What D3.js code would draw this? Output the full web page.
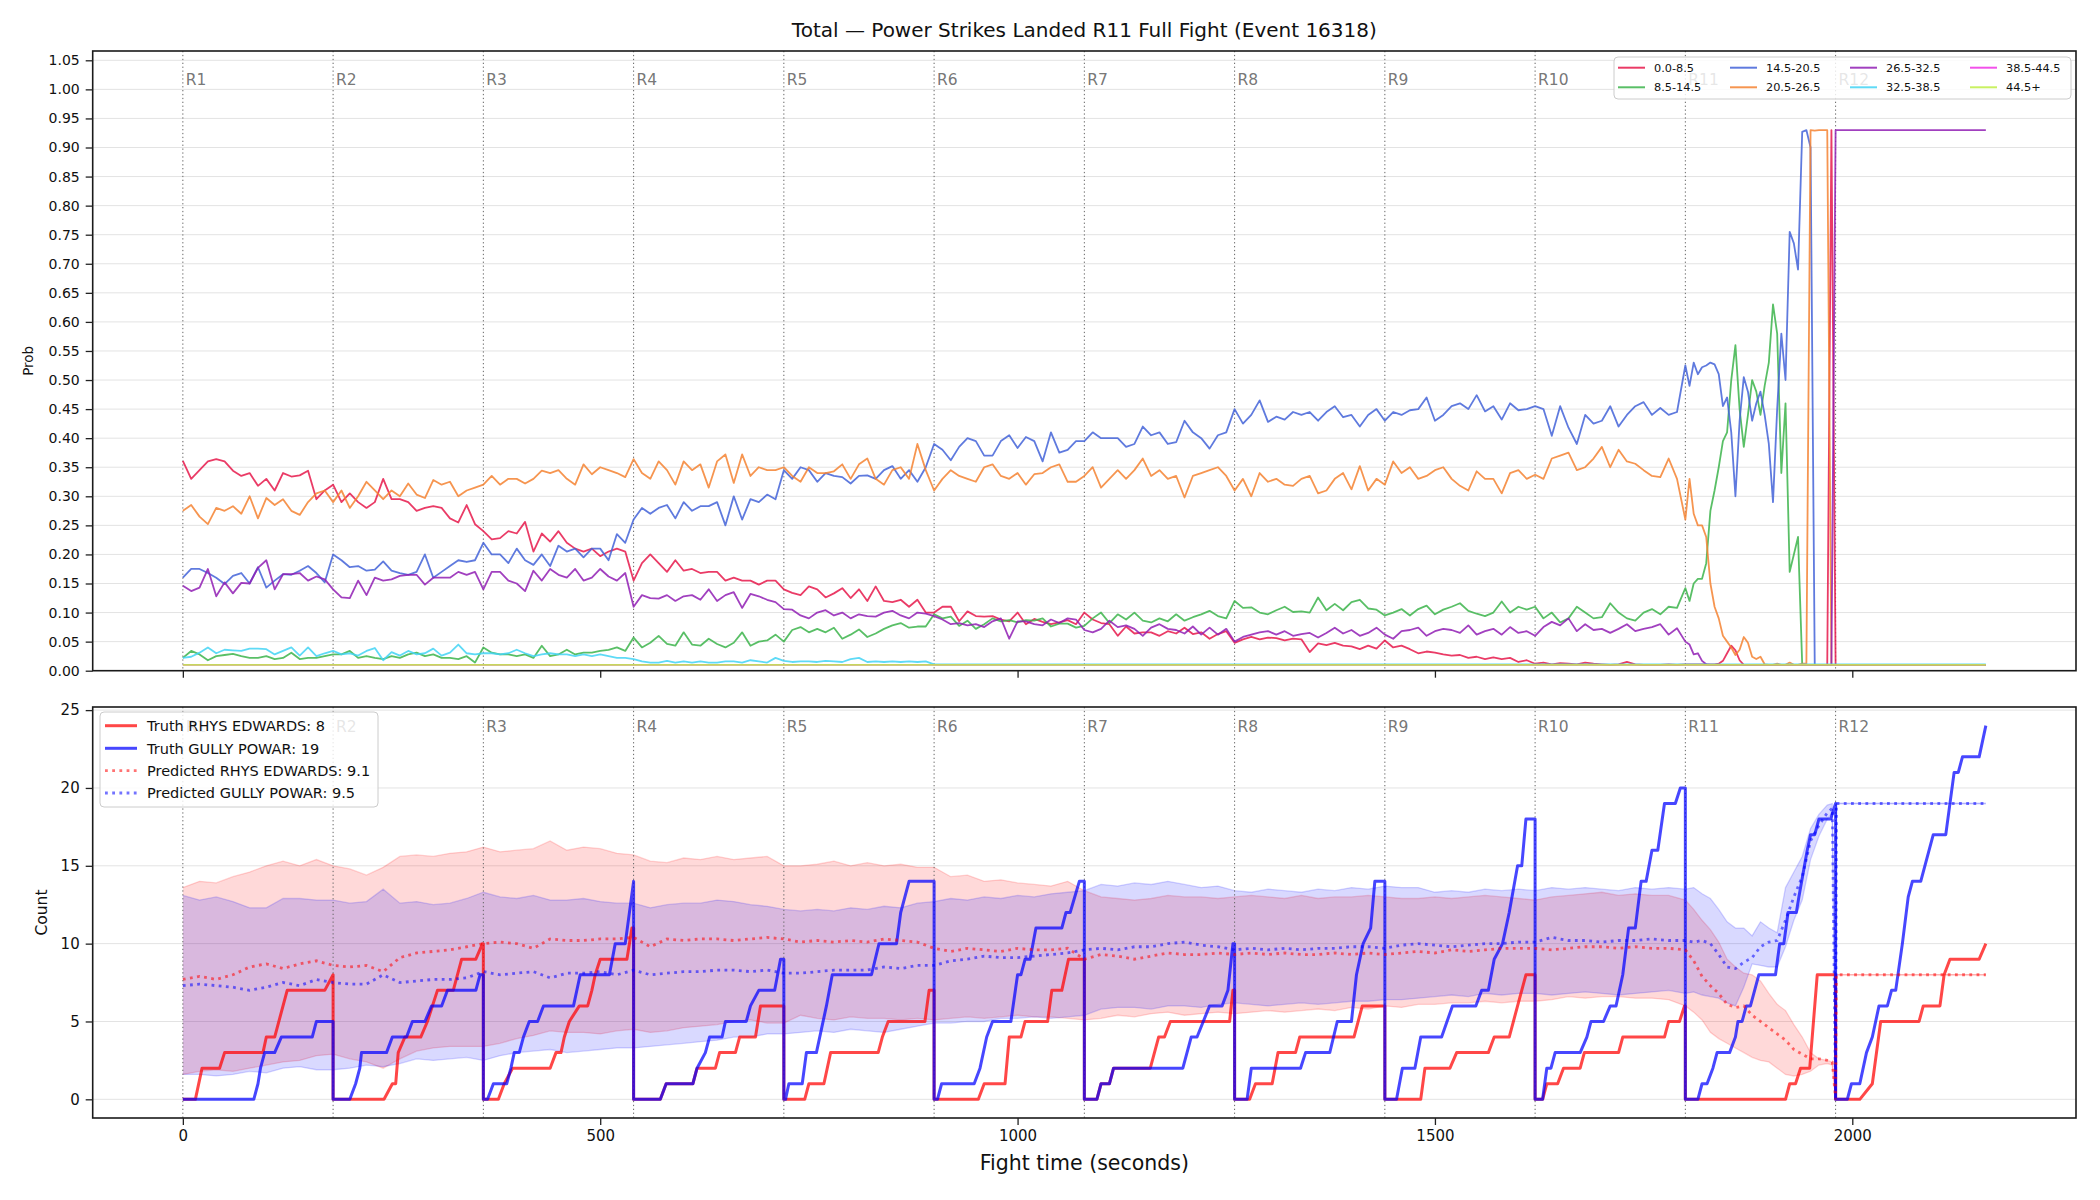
<!DOCTYPE html>
<html>
<head>
<meta charset="utf-8">
<script src="https://cdn.jsdelivr.net/npm/d3@7/dist/d3.min.js"></script>
<style>
html,body{margin:0;padding:0;background:#fff;}
svg{display:block;}
</style>
</head>
<body>
<svg id="chart" width="2100" height="1200"></svg>
<script>
// ================= DATA =================
const titleText = "Total — Power Strikes Landed R11 Full Fight (Event 16318)";
const roundLabels = ["R1","R2","R3","R4","R5","R6","R7","R8","R9","R10","R11","R12"];
const roundStarts = [0,180,360,540,720,900,1080,1260,1440,1620,1800,1980];
const bucketLabels = ["0.0-8.5","8.5-14.5","14.5-20.5","20.5-26.5","26.5-32.5","32.5-38.5","38.5-44.5","44.5+"];
const bucketColors = ["#e6194b","#3cb44b","#4363d8","#f58231","#911eb4","#42d4f4","#f032e6","#bfef45"];
const probTicks = [0,0.05,0.10,0.15,0.20,0.25,0.30,0.35,0.40,0.45,0.50,0.55,0.60,0.65,0.70,0.75,0.80,0.85,0.90,0.95,1.00,1.05];
const countTicks = [0,5,10,15,20,25];
const timeTicks = [0,500,1000,1500,2000];
const fighterNames = ["RHYS EDWARDS","GULLY POWAR"];
const truthTotals = [8,19];
const predTotals = [9.1,9.5];

// sampling grid of the probability panel (10 s through R10, 5 s through R11, then end of fight)
const probTimes = d3.range(0,1800,10).concat(d3.range(1800,1981,5),[2160]);

const probCrimson = [
0.361,0.33,0.345,0.36,0.364,0.36,0.344,0.335,0.34,0.318,0.33,0.31,0.34,0.334,0.336,0.344,0.295,0.31,
0.32,0.29,0.305,0.29,0.28,0.29,0.33,0.295,0.295,0.29,0.275,0.28,0.283,0.28,0.262,0.255,0.285,0.252,
0.24,0.226,0.228,0.24,0.236,0.256,0.205,0.236,0.222,0.24,0.22,0.21,0.205,0.21,0.197,0.205,0.21,0.205,
0.155,0.185,0.2,0.185,0.17,0.19,0.172,0.175,0.168,0.17,0.17,0.155,0.16,0.155,0.155,0.148,0.155,0.155,
0.14,0.134,0.13,0.145,0.14,0.126,0.133,0.142,0.125,0.14,0.12,0.145,0.12,0.118,0.122,0.11,0.122,0.1,
0.1,0.11,0.11,0.085,0.102,0.094,0.093,0.094,0.088,0.085,0.1,0.08,0.089,0.084,0.08,0.083,0.087,0.08,
0.1,0.088,0.082,0.08,0.06,0.076,0.064,0.066,0.066,0.06,0.068,0.064,0.074,0.063,0.066,0.055,0.063,0.068,
0.048,0.054,0.058,0.054,0.057,0.056,0.052,0.055,0.054,0.032,0.047,0.044,0.048,0.043,0.042,0.037,0.043,0.038,
0.052,0.04,0.043,0.037,0.03,0.033,0.031,0.028,0.026,0.027,0.022,0.024,0.02,0.023,0.02,0.022,0.015,0.018,
0.012,0.014,0.011,0.013,0.012,0.011,0.014,0.012,0.011,0.01,0.011,0.015,0.011,0.01,0.01,0.01,0.011,0.01,
0.011,0.011,0.011,0.011,0.011,0.011,0.011,0.011,0.012,0.017,0.03,0.043,0.035,0.018,0.01,
0.01,0.01,0.01,0.01,0.01,0.01,0.01,0.01,0.01,0.01,
0.01,0.01,0.01,0.01,0.01,0.01,0.01,0.01,0.01,0.01,
0.93,0.01,
0.01];

const probGreen = [
0.022,0.034,0.028,0.018,0.025,0.027,0.029,0.025,0.022,0.022,0.025,0.02,0.022,0.031,0.02,0.022,0.022,0.025,
0.028,0.028,0.034,0.022,0.025,0.022,0.02,0.025,0.022,0.028,0.031,0.025,0.028,0.022,0.022,0.02,0.025,0.014,
0.04,0.031,0.028,0.028,0.025,0.028,0.022,0.043,0.025,0.028,0.036,0.028,0.031,0.031,0.034,0.036,0.04,0.034,
0.057,0.04,0.048,0.06,0.046,0.043,0.066,0.045,0.043,0.055,0.046,0.04,0.048,0.066,0.043,0.05,0.052,0.062,
0.05,0.07,0.075,0.066,0.072,0.066,0.074,0.055,0.062,0.071,0.058,0.064,0.072,0.078,0.082,0.074,0.076,0.076,
0.097,0.09,0.093,0.077,0.086,0.072,0.08,0.09,0.085,0.087,0.083,0.087,0.086,0.09,0.076,0.081,0.081,0.074,
0.077,0.09,0.1,0.082,0.097,0.088,0.1,0.086,0.083,0.09,0.085,0.097,0.086,0.092,0.097,0.103,0.094,0.09,
0.12,0.108,0.109,0.1,0.097,0.104,0.11,0.101,0.102,0.1,0.126,0.104,0.115,0.104,0.118,0.122,0.107,0.105,
0.095,0.1,0.106,0.095,0.106,0.112,0.097,0.105,0.11,0.116,0.103,0.098,0.094,0.1,0.119,0.1,0.11,0.105,
0.11,0.09,0.1,0.083,0.09,0.11,0.1,0.09,0.092,0.116,0.1,0.09,0.086,0.1,0.106,0.097,0.11,0.108,
0.142,0.12,0.15,0.158,0.158,0.185,0.275,0.31,0.35,0.395,0.41,0.5,0.56,0.45,0.385,0.44,0.5,0.48,0.44,0.49,
0.53,0.63,0.58,0.34,0.46,0.17,0.2,0.23,0.01,
0.01,0.01,0.01,0.01,0.01,0.01,0.01,0.01,
0.01];

const probBlue = [
0.16,0.175,0.175,0.168,0.16,0.149,0.163,0.168,0.15,0.178,0.143,0.155,0.166,0.165,0.172,0.18,0.168,0.152,
0.2,0.19,0.178,0.18,0.172,0.174,0.188,0.172,0.168,0.165,0.17,0.2,0.16,0.17,0.18,0.19,0.187,0.19,
0.22,0.2,0.2,0.185,0.21,0.19,0.182,0.2,0.18,0.215,0.205,0.21,0.195,0.21,0.21,0.19,0.235,0.22,
0.26,0.28,0.27,0.28,0.285,0.262,0.29,0.275,0.283,0.283,0.29,0.25,0.3,0.26,0.295,0.29,0.303,0.295,
0.345,0.33,0.35,0.345,0.325,0.34,0.335,0.333,0.322,0.335,0.336,0.33,0.345,0.352,0.33,0.345,0.325,0.35,
0.39,0.38,0.362,0.385,0.4,0.395,0.37,0.37,0.395,0.405,0.383,0.402,0.395,0.36,0.41,0.375,0.38,0.395,
0.395,0.41,0.4,0.4,0.4,0.385,0.39,0.42,0.405,0.41,0.39,0.393,0.43,0.41,0.4,0.382,0.405,0.41,
0.45,0.425,0.44,0.465,0.428,0.437,0.432,0.445,0.44,0.445,0.43,0.445,0.455,0.436,0.44,0.42,0.44,0.45,
0.43,0.445,0.44,0.448,0.45,0.47,0.43,0.44,0.455,0.46,0.45,0.474,0.446,0.455,0.432,0.46,0.448,0.45,
0.455,0.45,0.404,0.455,0.418,0.39,0.44,0.425,0.43,0.455,0.42,0.44,0.455,0.462,0.44,0.452,0.44,0.445,
0.525,0.49,0.53,0.51,0.522,0.525,0.53,0.527,0.51,0.455,0.47,0.41,0.3,0.43,0.505,0.48,0.43,0.46,0.48,0.44,
0.39,0.29,0.45,0.58,0.5,0.755,0.735,0.69,0.927,0.93,0.9,
0.01,0.01,0.01,0.01,0.01,0.01,
0.01];

const probOrange = [
0.275,0.285,0.265,0.252,0.28,0.275,0.283,0.27,0.3,0.262,0.297,0.285,0.295,0.275,0.268,0.29,0.305,0.31,
0.29,0.31,0.28,0.3,0.325,0.31,0.295,0.31,0.3,0.322,0.303,0.297,0.328,0.32,0.325,0.3,0.31,0.315,
0.32,0.335,0.32,0.33,0.33,0.322,0.33,0.344,0.34,0.345,0.33,0.32,0.355,0.338,0.35,0.345,0.34,0.333,
0.364,0.34,0.33,0.36,0.345,0.32,0.36,0.345,0.355,0.315,0.36,0.372,0.323,0.372,0.335,0.35,0.345,0.345,
0.35,0.335,0.325,0.35,0.34,0.34,0.343,0.355,0.33,0.355,0.365,0.33,0.32,0.345,0.35,0.33,0.39,0.345,
0.31,0.33,0.345,0.335,0.33,0.325,0.35,0.355,0.335,0.33,0.34,0.32,0.338,0.34,0.35,0.355,0.325,0.325,
0.335,0.35,0.315,0.33,0.345,0.33,0.345,0.365,0.335,0.345,0.33,0.335,0.298,0.335,0.34,0.345,0.35,0.335,
0.31,0.33,0.3,0.34,0.325,0.33,0.32,0.318,0.33,0.335,0.305,0.31,0.33,0.34,0.312,0.352,0.31,0.33,
0.32,0.36,0.34,0.35,0.33,0.335,0.345,0.35,0.33,0.318,0.31,0.343,0.33,0.33,0.305,0.34,0.345,0.33,
0.337,0.33,0.365,0.37,0.375,0.345,0.35,0.365,0.385,0.35,0.38,0.36,0.356,0.345,0.335,0.333,0.365,0.33,
0.26,0.33,0.27,0.25,0.25,0.23,0.15,0.11,0.09,0.06,0.05,0.04,0.027,0.036,0.058,0.048,0.024,0.02,0.024,0.011,
0.01,0.01,0.012,0.01,0.01,0.014,0.01,0.01,0.012,0.012,0.93,0.929,0.93,0.93,0.93,0.01,0.01,
0.01];

const probPurple = [
0.146,0.137,0.143,0.175,0.128,0.152,0.133,0.151,0.15,0.177,0.19,0.14,0.166,0.166,0.168,0.155,0.162,0.157,
0.14,0.126,0.125,0.155,0.13,0.16,0.155,0.157,0.163,0.165,0.165,0.148,0.16,0.16,0.16,0.17,0.165,0.17,
0.14,0.17,0.17,0.155,0.15,0.137,0.172,0.155,0.175,0.165,0.16,0.175,0.155,0.16,0.175,0.162,0.155,0.168,
0.11,0.13,0.125,0.124,0.13,0.12,0.128,0.13,0.122,0.14,0.12,0.13,0.135,0.108,0.132,0.128,0.122,0.118,
0.106,0.105,0.095,0.09,0.1,0.104,0.095,0.1,0.09,0.097,0.094,0.093,0.1,0.103,0.095,0.09,0.1,0.098,
0.094,0.088,0.08,0.082,0.078,0.08,0.075,0.085,0.09,0.055,0.085,0.085,0.08,0.078,0.088,0.082,0.09,0.088,
0.07,0.066,0.072,0.086,0.075,0.078,0.072,0.06,0.074,0.08,0.072,0.07,0.064,0.076,0.062,0.074,0.062,0.072,
0.05,0.058,0.062,0.066,0.068,0.062,0.068,0.06,0.063,0.065,0.057,0.065,0.074,0.064,0.07,0.06,0.065,0.074,
0.062,0.055,0.068,0.07,0.074,0.06,0.068,0.072,0.07,0.065,0.078,0.062,0.068,0.072,0.062,0.075,0.065,0.068,
0.06,0.075,0.084,0.078,0.09,0.068,0.08,0.07,0.072,0.065,0.072,0.08,0.068,0.072,0.075,0.08,0.062,0.073,
0.05,0.045,0.028,0.03,0.017,0.011,
0.01,0.01,0.01,0.01,0.01,0.01,0.01,0.01,0.01,0.01,
0.01,0.01,0.01,0.01,0.01,0.01,0.01,0.01,0.01,0.01,
0.01,0.01,0.01,0.01,0.01,0.01,0.01,0.01,0.01,0.01,
0.93,
0.93];

const cyanTimes = d3.range(0,900,10).concat([900,2160]);
const probCyan = [
0.022,0.024,0.031,0.04,0.03,0.036,0.035,0.034,0.038,0.038,0.037,0.028,0.034,0.04,0.026,0.04,0.025,0.03,
0.034,0.028,0.03,0.026,0.034,0.039,0.018,0.032,0.026,0.034,0.028,0.03,0.038,0.026,0.031,0.045,0.03,0.028,
0.03,0.03,0.028,0.03,0.036,0.03,0.025,0.028,0.03,0.028,0.028,0.025,0.028,0.025,0.028,0.025,0.022,0.022,
0.02,0.016,0.014,0.014,0.017,0.014,0.016,0.014,0.016,0.014,0.014,0.016,0.016,0.014,0.018,0.016,0.014,0.022,
0.017,0.015,0.016,0.016,0.015,0.017,0.016,0.015,0.02,0.022,0.015,0.016,0.015,0.016,0.015,0.016,0.015,0.016,
0.011,0.011];

const flatTimes = [0,2160];
const probMagenta = [0.01,0.01];
const probLime = [0.01,0.01];

// count panel: truth step lines as [seconds, count] vertices
const truthRed = [
[0,0],[15,0],[23,2],[44,2],[50,3],[96,3],[100,4],[110,4],[125,7],[170,7],[180,8],[180,0],
[241,0],[251,1],[255,1],[258,3],[266,4],[285,4],[293,5],[305,7],[324,7],[334,9],[351,9],[359,10],[360,10],[360,0],
[378,0],[385,1],[395,2],[440,2],[447,3],[453,3],[457,4],[463,5],[475,6],[485,6],[490,7],[494,8],[500,9],[532,9],[538,11],[540,11],[540,0],
[572,0],[579,1],[611,1],[616,2],[638,2],[643,3],[662,3],[667,4],[686,4],[692,6],[720,6],[720,0],
[745,0],[750,1],[768,1],[776,3],[833,3],[838,4],[845,5],[889,5],[894,7],[900,7],[900,0],
[953,0],[960,1],[985,1],[990,4],[1004,4],[1009,5],[1036,5],[1041,7],[1053,7],[1061,9],[1080,9],[1080,0],
[1095,0],[1100,1],[1110,1],[1115,2],[1159,2],[1169,4],[1176,4],[1183,5],[1254,5],[1258,7],[1260,7],[1260,0],
[1278,0],[1285,1],[1305,1],[1312,3],[1333,3],[1338,4],[1403,4],[1413,6],[1440,6],[1440,0],
[1483,0],[1488,2],[1518,2],[1526,3],[1564,3],[1571,4],[1589,4],[1609,8],[1620,8],[1620,0],
[1629,0],[1634,1],[1647,1],[1654,2],[1674,2],[1679,3],[1720,3],[1725,4],[1775,4],[1780,5],[1793,5],[1799,6],[1800,6],[1800,0],
[1920,0],[1925,1],[1932,1],[1938,2],[1949,2],[1958,8],[1980,8],[1980,0],
[2009,0],[2024,1],[2034,5],[2080,5],[2085,6],[2105,6],[2110,8],[2117,9],[2152,9],[2160,10]];

const truthBlue = [
[0,0],[85,0],[90,1],[93,2],[98,3],[110,3],[118,4],[155,4],[160,5],[180,5],[180,0],
[200,0],[207,1],[212,2],[214,3],[244,3],[251,4],[268,4],[275,5],[290,5],[298,6],[310,6],[317,7],[351,7],[356,8],[360,8],[360,0],
[365,0],[372,1],[388,1],[393,2],[397,3],[403,3],[408,4],[415,5],[425,5],[432,6],[468,6],[476,8],[511,8],[518,10],[530,10],[540,14],[540,0],
[572,0],[579,1],[611,1],[616,2],[626,3],[631,4],[646,4],[650,5],[675,5],[680,6],[690,7],[709,7],[716,9],[720,9],[720,0],
[722,0],[726,1],[742,1],[747,3],[759,3],[771,6],[778,8],[825,8],[834,10],[855,10],[860,12],[870,14],[900,14],[900,0],
[904,0],[909,1],[948,1],[955,2],[963,4],[970,5],[992,5],[1000,8],[1004,8],[1009,9],[1015,9],[1022,11],[1053,11],[1058,12],[1063,12],[1074,14],[1080,14],[1080,0],
[1095,0],[1100,1],[1110,1],[1115,2],[1198,2],[1203,3],[1208,4],[1215,4],[1230,6],[1245,6],[1252,7],[1258,10],[1260,10],[1260,0],
[1275,0],[1280,2],[1339,2],[1345,3],[1374,3],[1383,5],[1400,5],[1406,8],[1414,10],[1423,11],[1428,14],[1440,14],[1440,0],
[1454,0],[1461,2],[1476,2],[1483,4],[1508,4],[1521,6],[1549,6],[1556,7],[1564,7],[1571,9],[1581,10],[1589,12],[1599,15],[1604,15],[1609,18],[1620,18],[1620,0],
[1629,0],[1634,2],[1639,2],[1644,3],[1674,3],[1682,4],[1687,5],[1702,5],[1710,6],[1717,6],[1725,8],[1732,11],[1740,11],[1747,14],[1753,14],[1760,16],[1767,16],[1775,19],[1788,19],[1794,20],[1800,20],[1800,0],
[1815,0],[1820,1],[1826,1],[1833,2],[1838,3],[1853,3],[1860,4],[1863,5],[1868,5],[1873,6],[1878,6],[1888,8],[1908,8],[1913,10],[1918,10],[1923,12],[1933,12],[1936,13],[1946,16],[1950,17],[1955,17],[1960,18],[1974,18],[1980,19],[1980,0],
[1994,0],[1999,1],[2009,1],[2017,3],[2024,4],[2032,6],[2042,6],[2047,7],[2052,7],[2060,10],[2067,13],[2072,14],[2082,14],[2097,17],[2112,17],[2122,21],[2127,21],[2132,22],[2152,22],[2160,24]];

// prediction / interval sampling grid
const countTimes = d3.range(0,1800,20).concat(d3.range(1800,1971,10),[1976,1980,1981,2160]);

const redPred = [
7.7,7.9,7.7,8.0,8.5,8.7,8.4,8.7,8.9,
8.6,8.5,8.6,8.2,9.1,9.4,9.5,9.6,9.8,
10.0,10.1,10.0,9.7,10.3,10.2,10.2,10.3,10.3,
10.4,9.8,10.3,10.2,10.3,10.3,10.2,10.3,10.4,
10.3,10.1,10.2,10.1,10.2,10.1,10.3,10.2,10.1,
9.7,9.5,9.7,9.6,9.5,9.7,9.6,9.6,9.7,
9.0,9.3,9.2,9.0,9.2,9.4,9.3,9.3,9.4,
9.3,9.4,9.3,9.4,9.3,9.3,9.4,9.3,9.4,
9.3,9.4,9.5,9.4,9.6,9.5,9.6,9.7,9.7,
9.7,9.6,9.7,9.8,9.8,9.7,9.8,9.7,9.7,
9.6,8.9,7.9,7.3,6.8,6.1,5.9,6.0,5.4,5.0,4.6,4.2,3.8,3.2,2.9,2.6,2.6,2.5,
2.4,0,8,8];
const redUpper = [
13.6,14.0,13.9,14.3,14.6,15.0,15.3,15.0,15.4,
15.0,14.8,14.4,14.9,15.6,15.7,15.6,15.8,15.9,
16.2,15.9,16.0,16.1,16.6,16.0,16.2,16.1,15.8,
15.7,15.3,15.2,15.5,15.4,15.6,15.4,15.5,15.6,
15.0,15.0,15.1,15.3,15.0,15.2,15.0,15.1,14.9,
14.9,14.3,14.4,14.0,14.1,13.9,13.8,13.7,14.0,
13.4,13.0,12.9,12.8,12.9,13.1,13.0,13.0,12.9,
13.0,13.1,13.0,12.9,13.1,12.9,13.0,13.0,13.1,
13.0,12.9,12.9,13.0,12.9,13.0,13.1,13.0,12.9,
12.8,13.0,13.1,13.2,13.3,13.1,13.2,13.1,13.1,
12.8,12.2,11.5,10.9,10.1,9.0,8.5,8.1,8.0,7.6,6.8,6.1,5.7,4.8,4.0,3.0,2.6,2.5,
2.4,0,8,8];
const redLower = [
1.6,1.8,1.9,1.8,2.0,2.2,2.4,2.5,2.8,
2.9,2.6,2.4,2.0,2.6,3.1,3.3,3.4,3.4,
3.4,3.6,3.9,4.1,4.4,4.3,4.3,4.2,4.4,
4.5,4.3,4.4,4.6,4.7,4.8,5.0,5.1,4.9,
4.9,5.4,5.2,5.1,5.3,5.2,5.2,5.1,5.2,
5.1,5.2,5.3,5.2,5.3,5.4,5.3,5.3,5.2,
5.1,5.2,5.4,5.3,5.5,5.6,5.4,5.5,5.6,
5.5,5.6,5.7,5.6,5.7,5.8,5.7,5.9,5.8,
6.0,5.9,6.1,6.1,6.2,6.2,6.3,6.2,6.3,
6.3,6.4,6.6,6.5,6.6,6.6,6.5,6.5,6.4,
6.0,5.6,5.1,4.3,3.9,3.6,3.3,3.0,2.7,2.5,2.4,2.0,1.6,1.5,1.6,1.8,2.2,2.3,
2.2,0,8,8];
const bluePred = [
7.3,7.4,7.3,7.2,7.0,7.2,7.5,7.3,7.7,
7.5,7.4,7.4,8.0,7.5,7.6,7.7,7.7,7.8,
8.2,8.0,8.1,8.2,7.8,8.1,8.1,8.2,8.0,
8.3,8.0,8.1,8.2,8.2,8.3,8.3,8.2,8.3,
8.1,8.1,8.2,8.3,8.3,8.3,8.5,8.4,8.6,
8.6,8.9,9.0,9.2,9.1,9.1,9.2,9.3,9.4,
9.6,9.7,9.6,9.8,9.8,10.0,10.1,9.9,9.8,
9.6,9.7,9.6,9.7,9.6,9.7,9.7,9.8,9.8,
9.7,9.9,10.0,9.9,9.8,9.9,10.0,10.0,10.1,
10.1,10.4,10.2,10.2,10.1,10.2,10.2,10.3,10.2,
10.2,10.1,10.2,10.0,9.3,8.5,8.4,8.8,9.1,9.8,10.1,10.2,11.5,13.0,14.3,16.6,17.6,18.4,
18.7,0,19,19];
const blueUpper = [
13.1,12.8,13.0,12.7,12.3,12.3,12.9,12.9,12.8,
12.8,12.6,12.7,13.5,12.6,12.7,12.5,12.6,12.9,
13.3,13.0,12.9,13.1,12.8,12.8,12.9,12.7,12.6,
12.6,12.3,12.5,12.6,12.6,12.8,12.7,12.5,12.4,
12.2,12.1,12.2,12.1,12.3,12.2,12.4,12.3,12.6,
12.7,12.9,12.8,13.0,12.9,13.1,13.0,13.2,13.3,
13.4,13.8,13.7,13.9,13.8,14.0,13.8,13.6,13.7,
13.4,13.3,13.5,13.4,13.3,13.5,13.4,13.6,13.5,
13.7,13.6,13.6,13.3,13.4,13.3,13.5,13.4,13.5,
13.4,13.6,13.5,13.6,13.5,13.4,13.6,13.5,13.6,
13.5,13.6,13.2,12.9,12.2,11.4,11.0,11.0,10.5,11.4,11.0,10.7,13.6,14.6,15.6,17.4,18.3,18.9,
19.0,0,19,19];
const blueLower = [
1.6,1.6,1.5,1.6,1.8,1.7,2.0,2.1,1.9,
1.9,2.0,2.2,2.1,2.3,2.6,2.5,2.6,2.7,
2.5,2.8,3.0,3.1,3.2,3.0,3.1,3.2,3.3,
3.3,3.4,3.5,3.6,3.7,3.8,4.0,4.0,4.2,
4.2,4.3,4.4,4.3,4.5,4.4,4.3,4.5,4.7,
4.9,4.9,5.0,5.0,5.2,5.2,5.3,5.2,5.3,
5.4,5.8,5.9,5.9,5.8,6.0,6.0,5.9,6.1,
6.2,6.1,6.0,6.1,6.2,6.1,6.2,6.3,6.3,
6.4,6.4,6.5,6.6,6.7,6.6,6.8,6.7,6.8,
6.8,6.7,6.8,6.9,6.8,6.7,6.8,6.9,7.0,
6.8,6.9,6.7,6.6,6.5,6.2,6.0,7.2,8.7,8.6,8.5,8.5,9.8,11.5,12.8,15.4,16.9,18.0,
18.4,0,19,19];

// ================= DRAWING =================
const FONT = "'DejaVu Sans', 'Noto Sans', sans-serif";
const svg = d3.select("#chart");
svg.append("rect").attr("width",2100).attr("height",1200).attr("fill","#ffffff");

const L = 92.7, R = 2076;
const PT = {top: 51, bottom: 670.7};
const PB = {top: 707, bottom: 1118};

const x = d3.scaleLinear().domain([-108, 2268]).range([L, R]);
const yP = d3.scaleLinear().domain([0, 1.066]).range([PT.bottom, PT.top]);
const yC = d3.scaleLinear().domain([-1.2, 25.2]).range([PB.bottom, PB.top]);

// title
svg.append("text").attr("x",(L+R)/2).attr("y",37).attr("text-anchor","middle")
  .attr("font-family",FONT).attr("font-size",20).attr("fill","#111").text(titleText);

function panelBase(yScale, ticks, P) {
  const g = svg.append("g");
  g.selectAll("line.grid").data(ticks).join("line").attr("class","grid")
    .attr("x1",L).attr("x2",R).attr("y1",d=>yScale(d)).attr("y2",d=>yScale(d))
    .attr("stroke","#e3e3e3").attr("stroke-width",1);
  return g;
}
function roundLines(P) {
  svg.append("g").selectAll("line").data(roundStarts).join("line")
    .attr("x1",d=>x(d)).attr("x2",d=>x(d)).attr("y1",P.top).attr("y2",P.bottom)
    .attr("stroke","#666").attr("stroke-width",1).attr("stroke-dasharray","1.3,2.6");
}
function roundText(yBase) {
  svg.append("g").selectAll("text").data(roundStarts).join("text")
    .attr("x",d=>x(d)+3).attr("y",yBase).attr("font-family",FONT).attr("font-size",15.5)
    .attr("fill","#666").attr("fill-opacity",0.9).text((d,i)=>roundLabels[i]);
}
function spines(P) {
  svg.append("rect").attr("x",L).attr("y",P.top).attr("width",R-L).attr("height",P.bottom-P.top)
    .attr("fill","none").attr("stroke","#1a1a1a").attr("stroke-width",1.6);
}
function styleAxis(g, fs) {
  g.attr("font-family",FONT).attr("font-size",fs);
  g.select(".domain").remove();
  g.selectAll(".tick line").attr("stroke","#222").attr("stroke-width",1.3);
  g.selectAll(".tick text").attr("fill","#111");
}

// ---------- top panel ----------
panelBase(yP, probTicks, PT);
roundLines(PT);

const lineP = d3.line().x(d=>x(d[0])).y(d=>yP(d[1]));
const probSeries = [
  [probTimes, probCrimson],
  [probTimes, probGreen],
  [probTimes, probBlue],
  [probTimes, probOrange],
  [probTimes, probPurple],
  [cyanTimes, probCyan],
  [flatTimes, probMagenta],
  [flatTimes, probLime]
];
const gLines = svg.append("g");
probSeries.forEach((s,i)=>{
  gLines.append("path").datum(d3.zip(s[0], s[1])).attr("d",lineP)
    .attr("fill","none").attr("stroke",bucketColors[i]).attr("stroke-width",1.8)
    .attr("stroke-opacity",0.85).attr("stroke-linejoin","round");
});
roundText(85);
spines(PT);

const gyP = svg.append("g").attr("transform",`translate(${L},0)`)
  .call(d3.axisLeft(yP).tickValues(probTicks).tickFormat(d3.format(".2f")).tickSize(7).tickPadding(6));
styleAxis(gyP, 14);
const gxP = svg.append("g").attr("transform",`translate(0,${PT.bottom})`)
  .call(d3.axisBottom(x).tickValues(timeTicks).tickFormat("").tickSize(7));
styleAxis(gxP, 14);

svg.append("text").attr("transform",`translate(28,${(PT.top+PT.bottom)/2}) rotate(-90)`)
  .attr("text-anchor","middle").attr("dominant-baseline","central")
  .attr("font-family",FONT).attr("font-size",13.5).attr("fill","#111").text("Prob");

// top legend
const legT = svg.append("g");
legT.append("rect").attr("x",1614).attr("y",57).attr("width",457).attr("height",42).attr("rx",4)
  .attr("fill","#fff").attr("fill-opacity",0.82).attr("stroke","#cccccc").attr("stroke-width",1);
const legCols = [1618,1730,1850,1970];
const legRows = [67.7,87.3];
bucketLabels.forEach((lab,i)=>{
  const c = Math.floor(i/2), r = i%2;
  legT.append("line").attr("x1",legCols[c]).attr("x2",legCols[c]+27)
    .attr("y1",legRows[r]).attr("y2",legRows[r])
    .attr("stroke",bucketColors[i]).attr("stroke-width",2).attr("stroke-opacity",0.85);
  legT.append("text").attr("x",legCols[c]+36).attr("y",legRows[r]+4)
    .attr("font-family",FONT).attr("font-size",11.3).attr("fill","#111").text(lab);
});

// ---------- bottom panel ----------
panelBase(yC, countTicks, PB);

const area = d3.area().x(d=>x(d.t)).y0(d=>yC(d.lo)).y1(d=>yC(d.hi));
const edge = d3.line().x(d=>x(d[0])).y(d=>yC(d[1]));
function band(lo, hi, color) {
  const data = countTimes.map((t,i)=>({t, lo: lo[i], hi: hi[i]}));
  const g = svg.append("g");
  g.append("path").datum(data).attr("d",area).attr("fill",color).attr("fill-opacity",0.15).attr("stroke","none");
  [lo,hi].forEach(arr=>{
    g.append("path").datum(d3.zip(countTimes, arr)).attr("d",edge).attr("fill","none")
      .attr("stroke",color).attr("stroke-opacity",0.17).attr("stroke-width",1.3);
  });
}
band(redLower, redUpper, "#ff0000");
band(blueLower, blueUpper, "#0000ff");
roundLines(PB);

const gTruth = svg.append("g");
gTruth.append("path").datum(truthRed).attr("d",edge).attr("fill","none")
  .attr("stroke","#ff0000").attr("stroke-opacity",0.72).attr("stroke-width",3).attr("stroke-linejoin","round");
gTruth.append("path").datum(truthBlue).attr("d",edge).attr("fill","none")
  .attr("stroke","#0000ff").attr("stroke-opacity",0.72).attr("stroke-width",3).attr("stroke-linejoin","round");

const gPred = svg.append("g");
gPred.append("path").datum(d3.zip(countTimes, redPred)).attr("d",edge).attr("fill","none")
  .attr("stroke","#ff0000").attr("stroke-opacity",0.55).attr("stroke-width",2.8).attr("stroke-dasharray","2.8,4.4");
gPred.append("path").datum(d3.zip(countTimes, bluePred)).attr("d",edge).attr("fill","none")
  .attr("stroke","#0000ff").attr("stroke-opacity",0.55).attr("stroke-width",2.8).attr("stroke-dasharray","2.8,4.4");

roundText(732);
spines(PB);

const gyC = svg.append("g").attr("transform",`translate(${L},0)`)
  .call(d3.axisLeft(yC).tickValues(countTicks).tickFormat(d3.format("d")).tickSize(7).tickPadding(6));
styleAxis(gyC, 15);
const gxC = svg.append("g").attr("transform",`translate(0,${PB.bottom})`)
  .call(d3.axisBottom(x).tickValues(timeTicks).tickFormat(d3.format("d")).tickSize(7).tickPadding(5));
styleAxis(gxC, 15);

svg.append("text").attr("transform",`translate(42,${(PB.top+PB.bottom)/2}) rotate(-90)`)
  .attr("text-anchor","middle").attr("dominant-baseline","central")
  .attr("font-family",FONT).attr("font-size",15.5).attr("fill","#111").text("Count");
svg.append("text").attr("x",(L+R)/2).attr("y",1170).attr("text-anchor","middle")
  .attr("font-family",FONT).attr("font-size",20.5).attr("fill","#111").text("Fight time (seconds)");

// bottom legend
const legB = svg.append("g");
legB.append("rect").attr("x",100).attr("y",712).attr("width",278).attr("height",95).attr("rx",4)
  .attr("fill","#fff").attr("fill-opacity",0.82).attr("stroke","#cccccc").attr("stroke-width",1);
const legBItems = [
  {label:`Truth ${fighterNames[0]}: ${truthTotals[0]}`, color:"#ff0000", dash:null, op:0.72, w:3},
  {label:`Truth ${fighterNames[1]}: ${truthTotals[1]}`, color:"#0000ff", dash:null, op:0.72, w:3},
  {label:`Predicted ${fighterNames[0]}: ${predTotals[0]}`, color:"#ff0000", dash:"2.8,4.4", op:0.55, w:2.8},
  {label:`Predicted ${fighterNames[1]}: ${predTotals[1]}`, color:"#0000ff", dash:"2.8,4.4", op:0.55, w:2.8}
];
const legBRows = [725.7,748.3,770.7,793];
legBItems.forEach((it,i)=>{
  const ln = legB.append("line").attr("x1",105).attr("x2",137).attr("y1",legBRows[i]).attr("y2",legBRows[i])
    .attr("stroke",it.color).attr("stroke-opacity",it.op).attr("stroke-width",it.w);
  if (it.dash) ln.attr("stroke-dasharray",it.dash);
  legB.append("text").attr("x",147).attr("y",legBRows[i]+5.2)
    .attr("font-family",FONT).attr("font-size",14.5).attr("fill","#111").text(it.label);
});
</script>
</body>
</html>
